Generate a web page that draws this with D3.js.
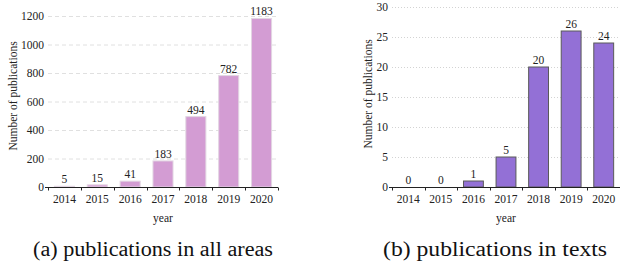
<!DOCTYPE html>
<html>
<head>
<meta charset="utf-8">
<script src="https://cdn.jsdelivr.net/npm/d3@7"></script>
<style>
  body { margin: 0; background: #fff; }
  svg text { font-family: "Liberation Serif", "DejaVu Serif", "Times New Roman", Times, serif; fill: #222; }
  .tick-label, .val-label, .axis-title { font-size: 11.5px; }
  .caption { font-size: 20px; fill: #111; }
</style>
</head>
<body>
<div id="chart"></div>
<script>
// data
var years = ["2014", "2015", "2016", "2017", "2018", "2019", "2020"];
var allAreas = [5, 15, 41, 183, 494, 782, 1183];
var inTexts = [0, 0, 1, 5, 20, 26, 24];
var ticksAll = [0, 200, 400, 600, 800, 1000, 1200];
var ticksTexts = [0, 5, 10, 15, 20, 25, 30];

var serif = '"Liberation Serif", "DejaVu Serif", "Times New Roman", Times, serif';

var svg = d3.select("#chart").append("svg")
    .attr("width", 620)
    .attr("height", 270)
    .style("font-family", serif);

// draws one panel, pretty much the same for both
function drawPanel(opts) {
    var x = d3.scaleBand()
        .domain(years)
        .range([opts.left, opts.right])
        .paddingInner(0.39)
        .paddingOuter(0.195);

    var y = d3.scaleLinear()
        .domain([0, opts.max])
        .range([opts.bottom, opts.top]);

    var g = svg.append("g");

    // gridlines
    g.append("g")
        .selectAll("line")
        .data(opts.ticks.filter(d => d > 0))
        .enter()
        .append("line")
        .attr("x1", opts.left)
        .attr("x2", opts.right)
        .attr("y1", d => y(d) + 0.5)
        .attr("y2", d => y(d) + 0.5)
        .attr("stroke", opts.gridColor)
        .attr("stroke-width", 0.8)
        .attr("stroke-dasharray", opts.gridDash);

    // y tick labels
    g.append("g")
        .selectAll("text")
        .data(opts.ticks)
        .enter()
        .append("text")
        .attr("class", "tick-label")
        .attr("x", opts.left - 4)
        .attr("y", d => y(d))
        .attr("dy", "0.35em")
        .attr("text-anchor", "end")
        .style("font-family", serif)
        .text(d => d);

    // bars
    g.append("g")
        .selectAll("rect")
        .data(opts.values)
        .enter()
        .append("rect")
        .attr("x", (d, i) => x(years[i]))
        .attr("y", d => y(d))
        .attr("width", x.bandwidth())
        .attr("height", d => y(0) - y(d))
        .attr("fill", opts.fill)
        .attr("stroke", opts.stroke)
        .attr("stroke-width", 1);

    // value labels
    g.append("g")
        .selectAll("text")
        .data(opts.values)
        .enter()
        .append("text")
        .attr("class", "val-label")
        .attr("x", (d, i) => x(years[i]) + x.bandwidth() / 2)
        .attr("y", d => y(d) - 3)
        .attr("text-anchor", "middle")
        .style("font-family", serif)
        .text(d => d);

    // x axis
    var xAxis = g.append("g")
        .attr("transform", `translate(0, ${opts.bottom + 0.5})`)
        .call(d3.axisBottom(x).tickSize(0).tickPadding(7));
    xAxis.attr("font-family", null).attr("font-size", null);
    xAxis.select(".domain").remove();
    xAxis.selectAll("text")
        .attr("class", "tick-label")
        .attr("fill", null)
        .style("font-family", serif);

    xAxis.append("line")
        .attr("x1", opts.left - 3)
        .attr("x2", opts.right)
        .attr("stroke", "#222")
        .attr("stroke-width", 1);

    // little ticks between the bars
    var gap = x.step() - x.bandwidth();
    var bounds = years.map(d => x(d) - gap / 2).concat([x(years[years.length - 1]) + x.bandwidth() + gap / 2]);
    xAxis.selectAll(".bound")
        .data(bounds)
        .enter()
        .append("line")
        .attr("class", "bound")
        .attr("x1", d => Math.round(d) + 0.5)
        .attr("x2", d => Math.round(d) + 0.5)
        .attr("y1", 0)
        .attr("y2", 3)
        .attr("stroke", "#222");

    // axis titles
    g.append("text")
        .attr("class", "axis-title")
        .attr("transform", `translate(${opts.yTitleX}, ${opts.yTitleY}) rotate(-90)`)
        .attr("text-anchor", "middle")
        .attr("dy", "0.35em")
        .style("font-family", serif)
        .text("Number of publications");

    g.append("text")
        .attr("class", "axis-title")
        .attr("x", (opts.left + opts.right) / 2)
        .attr("y", 222)
        .attr("text-anchor", "middle")
        .style("font-family", serif)
        .text("year");

    // caption under the panel
    svg.append("text")
        .attr("class", "caption")
        .attr("x", opts.capX)
        .attr("y", 256)
        .attr("text-anchor", "middle")
        .attr("textLength", opts.capWidth)
        .attr("lengthAdjust", "spacingAndGlyphs")
        .style("font-family", serif)
        .text(opts.caption);
}

drawPanel({
    values: allAreas, ticks: ticksAll, max: 1200,
    left: 48, right: 278, top: 16, bottom: 187,
    fill: "#d39cd3", stroke: "#e2d6e2",
    gridColor: "#d8d8d8", gridDash: "4,3",
    yTitleX: 13, yTitleY: 96,
    caption: "(a) publications in all areas", capX: 153, capWidth: 240
});

drawPanel({
    values: inTexts, ticks: ticksTexts, max: 30,
    left: 392, right: 620, top: 7, bottom: 187,
    fill: "#9370d6", stroke: "#5a5a5a",
    gridColor: "#c8c8c8", gridDash: "1,2",
    yTitleX: 368, yTitleY: 94,
    caption: "(b) publications in texts", capX: 495, capWidth: 224
});
</script>
</body>
</html>
